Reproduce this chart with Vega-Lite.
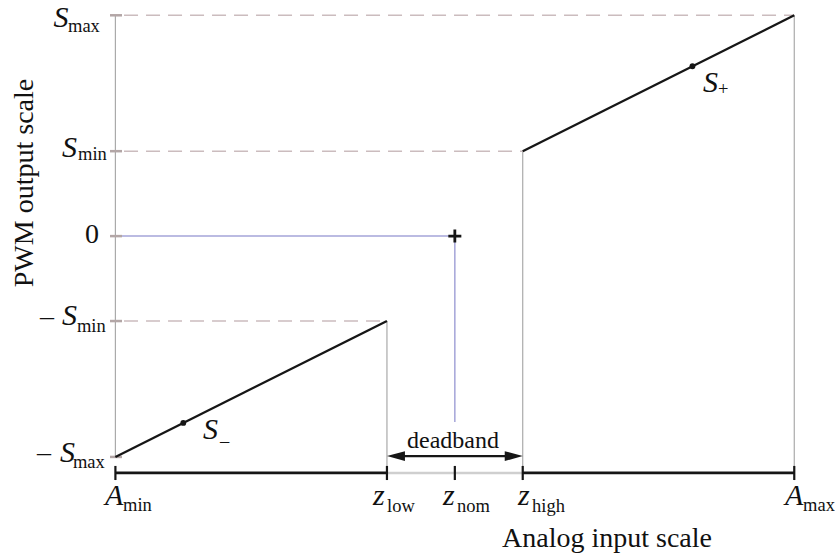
{
  "$schema": "https://vega.github.io/schema/vega-lite/v6.json",
  "width": 835,
  "height": 558,
  "autosize": "none",
  "padding": 0,
  "background": "white",
  "config": {"view": {"stroke": null}},
  "datasets": {
    "segs": [
      {"kind": "gray", "x": 0, "x2": 0, "y": -13, "y2": 13},
      {"kind": "gray", "x": 4, "x2": 4, "y": -5, "y2": -13.94},
      {"kind": "gray", "x": 6, "x2": 6, "y": 5, "y2": -13.94},
      {"kind": "gray", "x": 10, "x2": 10, "y": 13, "y2": -13.94},
      {"kind": "lav", "x": 0, "x2": 5, "y": 0, "y2": 0},
      {"kind": "lav", "x": 5, "x2": 5, "y": 0, "y2": -10.94},
      {"kind": "dash", "x": 0.127, "x2": 10, "y": 13, "y2": 13},
      {"kind": "dash", "x": 0.127, "x2": 6, "y": 5, "y2": 5},
      {"kind": "dash", "x": 0.127, "x2": 4, "y": -5, "y2": -5},
      {"kind": "ytick", "x": -0.08, "x2": 0.097, "y": 13, "y2": 13},
      {"kind": "ytick", "x": -0.08, "x2": 0.097, "y": 5, "y2": 5},
      {"kind": "ytick", "x": -0.08, "x2": 0.097, "y": 0, "y2": 0},
      {"kind": "ytick", "x": -0.08, "x2": 0.097, "y": -5, "y2": -5},
      {"kind": "ytick", "x": -0.08, "x2": 0.097, "y": -13, "y2": -13},
      {"kind": "axislight", "x": 4, "x2": 6, "y": -13.94, "y2": -13.94},
      {"kind": "curve", "x": 0, "x2": 4, "y": -13, "y2": -5},
      {"kind": "curve", "x": 6, "x2": 10, "y": 5, "y2": 13},
      {"kind": "axis", "x": 0, "x2": 4, "y": -13.94, "y2": -13.94},
      {"kind": "axis", "x": 6, "x2": 10, "y": -13.94, "y2": -13.94},
      {"kind": "tick", "x": 0, "x2": 0, "y": -13.53, "y2": -14.36},
      {"kind": "tick", "x": 4, "x2": 4, "y": -13.53, "y2": -14.36},
      {"kind": "tick", "x": 5, "x2": 5, "y": -13.53, "y2": -14.36},
      {"kind": "tick", "x": 6, "x2": 6, "y": -13.53, "y2": -14.36},
      {"kind": "tick", "x": 10, "x2": 10, "y": -13.53, "y2": -14.36},
      {"kind": "arrow", "x": 4.15, "x2": 5.85, "y": -12.95, "y2": -12.95}
    ],
    "pts": [
      {"kind": "dot", "x": 1, "y": -11},
      {"kind": "dot", "x": 8.5, "y": 10},
      {"kind": "plus", "x": 5, "y": 0},
      {"kind": "headleft", "x": 4, "y": -12.95},
      {"kind": "headright", "x": 6, "y": -12.95}
    ],
    "labels": [
      {"role": "var", "t": "S", "x": -0.9135, "y": 12.31},
      {"role": "sub", "t": "max", "x": -0.698, "y": 12.02},
      {"role": "var", "t": "S", "x": -0.787, "y": 4.657},
      {"role": "sub", "t": "min", "x": -0.551, "y": 4.48},
      {"role": "num", "t": "0", "x": -0.448, "y": -0.406},
      {"role": "num", "t": "–", "x": -1.111, "y": -5.233},
      {"role": "var", "t": "S", "x": -0.787, "y": -5.233},
      {"role": "sub", "t": "min", "x": -0.566, "y": -5.65},
      {"role": "num", "t": "–", "x": -1.155, "y": -13.24},
      {"role": "var", "t": "S", "x": -0.816, "y": -13.30},
      {"role": "sub", "t": "max", "x": -0.625, "y": -13.65},
      {"role": "var", "t": "A", "x": -0.153, "y": -15.83},
      {"role": "sub", "t": "min", "x": 0.112, "y": -16.18},
      {"role": "var", "t": "A", "x": 9.864, "y": -15.83},
      {"role": "sub", "t": "max", "x": 10.129, "y": -16.18},
      {"role": "var", "t": "z", "x": 3.795, "y": -15.83},
      {"role": "sub", "t": "low", "x": 4.001, "y": -16.24},
      {"role": "var", "t": "z", "x": 4.826, "y": -15.83},
      {"role": "sub", "t": "nom", "x": 5.032, "y": -16.24},
      {"role": "var", "t": "z", "x": 5.932, "y": -15.83},
      {"role": "sub", "t": "high", "x": 6.138, "y": -16.24},
      {"role": "var", "t": "S", "x": 1.29, "y": -11.97},
      {"role": "sub", "t": "–", "x": 1.541, "y": -12.42},
      {"role": "var", "t": "S", "x": 8.656, "y": 8.483},
      {"role": "sub", "t": "+", "x": 8.877, "y": 8.307},
      {"role": "small", "t": "deadband", "x": 4.973, "y": -12.48},
      {"role": "xtitle", "t": "Analog input scale", "x": 7.241, "y": -18.3},
      {"role": "ytitle", "t": "PWM output scale", "x": -1.214, "y": 3.126}
    ]
  },
  "encoding": {
    "x": {"field": "x", "type": "quantitative", "scale": {"domain": [-1.7, 10.6], "nice": false, "zero": false}, "axis": null},
    "y": {"field": "y", "type": "quantitative", "scale": {"domain": [-18.95, 13.9], "nice": false, "zero": false}, "axis": null}
  },
  "layer": [
    {"data": {"name": "segs"}, "transform": [{"filter": "datum.kind === 'gray'"}],
     "mark": {"type": "rule", "color": "#aaaaaa", "strokeWidth": 1.2},
     "encoding": {"x2": {"field": "x2"}, "y2": {"field": "y2"}}},
    {"data": {"name": "segs"}, "transform": [{"filter": "datum.kind === 'lav'"}],
     "mark": {"type": "rule", "color": "#a4a4d8", "strokeWidth": 1.5},
     "encoding": {"x2": {"field": "x2"}, "y2": {"field": "y2"}}},
    {"data": {"name": "segs"}, "transform": [{"filter": "datum.kind === 'dash'"}],
     "mark": {"type": "rule", "color": "#cbbcbe", "strokeWidth": 1.5, "strokeDash": [14, 8]},
     "encoding": {"x2": {"field": "x2"}, "y2": {"field": "y2"}}},
    {"data": {"name": "segs"}, "transform": [{"filter": "datum.kind === 'ytick'"}],
     "mark": {"type": "rule", "color": "#b3a6a6", "strokeWidth": 2.5},
     "encoding": {"x2": {"field": "x2"}, "y2": {"field": "y2"}}},
    {"data": {"name": "segs"}, "transform": [{"filter": "datum.kind === 'axislight'"}],
     "mark": {"type": "rule", "color": "#cfcfcf", "strokeWidth": 2.5},
     "encoding": {"x2": {"field": "x2"}, "y2": {"field": "y2"}}},
    {"data": {"name": "segs"}, "transform": [{"filter": "datum.kind === 'curve'"}],
     "mark": {"type": "rule", "color": "#161616", "strokeWidth": 2.3},
     "encoding": {"x2": {"field": "x2"}, "y2": {"field": "y2"}}},
    {"data": {"name": "segs"}, "transform": [{"filter": "datum.kind === 'axis'"}],
     "mark": {"type": "rule", "color": "#161616", "strokeWidth": 2.6},
     "encoding": {"x2": {"field": "x2"}, "y2": {"field": "y2"}}},
    {"data": {"name": "segs"}, "transform": [{"filter": "datum.kind === 'tick' || datum.kind === 'arrow'"}],
     "mark": {"type": "rule", "color": "#161616", "strokeWidth": 2.2},
     "encoding": {"x2": {"field": "x2"}, "y2": {"field": "y2"}}},
    {"data": {"name": "pts"}, "transform": [{"filter": "datum.kind === 'dot'"}],
     "mark": {"type": "point", "shape": "circle", "filled": true, "color": "#161616", "size": 34, "opacity": 1}},
    {"data": {"name": "pts"}, "transform": [{"filter": "datum.kind === 'plus'"}],
     "mark": {"type": "point", "shape": "M-1,0H1M0,-1V1", "filled": false, "color": "#161616", "strokeWidth": 2.8, "size": 169, "opacity": 1}},
    {"data": {"name": "pts"}, "transform": [{"filter": "datum.kind === 'headleft'"}],
     "mark": {"type": "point", "shape": "M0,0L4,-1.1L4,1.1Z", "filled": true, "color": "#161616", "size": 81, "opacity": 1}},
    {"data": {"name": "pts"}, "transform": [{"filter": "datum.kind === 'headright'"}],
     "mark": {"type": "point", "shape": "M0,0L-4,-1.1L-4,1.1Z", "filled": true, "color": "#161616", "size": 81, "opacity": 1}},
    {"data": {"name": "labels"}, "transform": [{"filter": "datum.role === 'var'"}],
     "mark": {"type": "text", "font": "Liberation Serif", "fontStyle": "italic", "fontSize": 30, "align": "left", "baseline": "alphabetic", "color": "#111111"},
     "encoding": {"text": {"field": "t"}}},
    {"data": {"name": "labels"}, "transform": [{"filter": "datum.role === 'sub'"}],
     "mark": {"type": "text", "font": "Liberation Serif", "fontSize": 18.5, "align": "left", "baseline": "alphabetic", "color": "#111111"},
     "encoding": {"text": {"field": "t"}}},
    {"data": {"name": "labels"}, "transform": [{"filter": "datum.role === 'num'"}],
     "mark": {"type": "text", "font": "Liberation Serif", "fontSize": 28, "align": "left", "baseline": "alphabetic", "color": "#111111"},
     "encoding": {"text": {"field": "t"}}},
    {"data": {"name": "labels"}, "transform": [{"filter": "datum.role === 'small'"}],
     "mark": {"type": "text", "font": "Liberation Serif", "fontSize": 24, "align": "center", "baseline": "alphabetic", "color": "#111111"},
     "encoding": {"text": {"field": "t"}}},
    {"data": {"name": "labels"}, "transform": [{"filter": "datum.role === 'xtitle'"}],
     "mark": {"type": "text", "font": "Liberation Serif", "fontSize": 28, "align": "center", "baseline": "alphabetic", "color": "#111111"},
     "encoding": {"text": {"field": "t"}}},
    {"data": {"name": "labels"}, "transform": [{"filter": "datum.role === 'ytitle'"}],
     "mark": {"type": "text", "font": "Liberation Serif", "fontSize": 28, "align": "center", "baseline": "alphabetic", "angle": 270, "color": "#111111"},
     "encoding": {"text": {"field": "t"}}}
  ]
}
